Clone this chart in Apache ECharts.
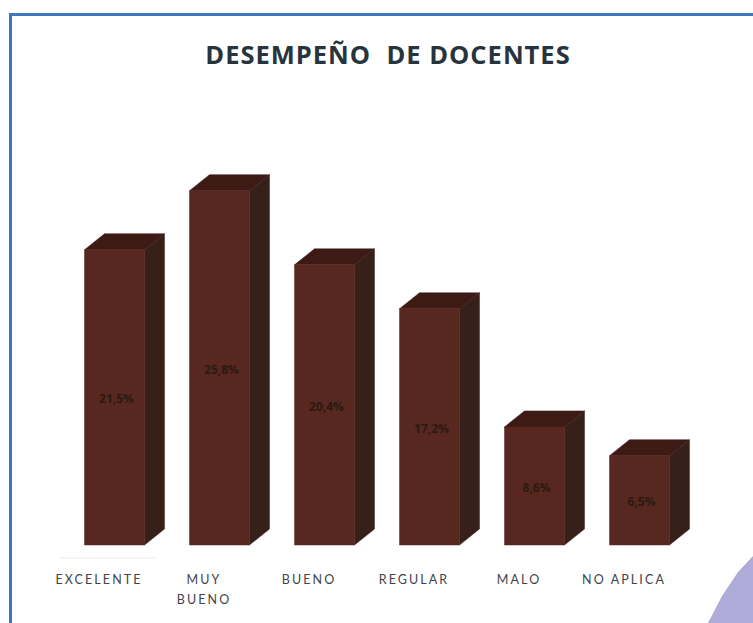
<!DOCTYPE html>
<html><head><meta charset="utf-8">
<style>
html,body{margin:0;padding:0;background:#fff}
#c{width:753px;height:623px}
svg text{letter-spacing:2.1px}
svg text.t{letter-spacing:1px}
</style>
<script src="https://cdn.jsdelivr.net/npm/echarts@6/dist/echarts.min.js"></script>
</head><body><div id="c"></div>
<script>
const chartTitle = 'DESEMPEÑO  DE DOCENTES';
const categories = ['EXCELENTE', 'MUY\nBUENO', 'BUENO', 'REGULAR', 'MALO', 'NO APLICA'];
const values = [21.5, 25.8, 20.4, 17.2, 8.6, 6.5];

const frontColor = '#58271f', topColor = '#3d1a14', sideColor = '#38201a', labelColor = '#2a1a12';
const depthX = 20, depthY = 16, faceWidth = 60, faceShift = 15.5;

const chart = echarts.init(document.getElementById('c'), null, {renderer: 'svg'});
chart.setOption({
  animation: false,
  backgroundColor: '#ffffff',
  title: {text: chartTitle, left: 383, top: 36, textAlign: 'center',
    textStyle: {fontFamily: 'Open Sans', fontWeight: 'bold', fontSize: 25.5, color: '#27343d'}},
  grid: {left: 46.5, width: 630, top: 133, height: 412},
  xAxis: {type: 'category', data: categories,
    axisLine: {show: false}, axisTick: {show: false}, splitLine: {show: false},
    axisLabel: {margin: 24, fontFamily: 'Lato', fontSize: 12.5, lineHeight: 20, color: '#3f4448', interval: 0}},
  yAxis: {type: 'value', min: 0, max: 30, show: false, splitLine: {show: false}},
  graphic: [
    {type: 'polygon', silent: true, z: 0, shape: {points: [[708,623],[722,596],[738,572],[753,556],[753,623]]},
      style: {fill: '#aeabd8'}},
    {type: 'line', silent: true, z: 0, shape: {x1: 60, y1: 558, x2: 155, y2: 558},
      style: {stroke: '#f1e9ea', lineWidth: 1}},
    {type: 'rect', silent: true, z: 1, shape: {x: 10.5, y: 14.5, width: 760, height: 700},
      style: {fill: 'none', stroke: '#3f78b8', lineWidth: 3}}
  ],
  series: [{
    type: 'custom',
    data: values.map((v, i) => [i, v]),
    encode: {x: 0, y: 1},
    renderItem(params, api) {
      const i = api.value(0), v = api.value(1);
      const base = api.coord([i, 0]);
      const cx = base[0] + faceShift, y0 = base[1];
      const y1 = api.coord([i, v])[1];
      const l = cx - faceWidth / 2, r = cx + faceWidth / 2;
      return {type: 'group', children: [
        {type: 'polygon', shape: {points: [[l,y1],[l+depthX,y1-depthY],[r+depthX,y1-depthY],[r,y1]]},
          style: {fill: topColor, stroke: topColor, lineWidth: 0.5}},
        {type: 'polygon', shape: {points: [[r,y1],[r+depthX,y1-depthY],[r+depthX,y0-depthY],[r,y0]]},
          style: {fill: sideColor, stroke: sideColor, lineWidth: 0.5}},
        {type: 'rect', shape: {x: l, y: y1, width: faceWidth, height: y0 - y1},
          style: {fill: frontColor, stroke: frontColor, lineWidth: 0.5}},
        {type: 'text', x: cx + 2, y: (y0 + y1) / 2 + 1.5, style: {
          text: v.toFixed(1).replace('.', ',') + '%', align: 'center', verticalAlign: 'middle',
          font: 'bold 12px "Open Sans"', fill: labelColor}}
      ]};
    }
  }]
});
function mark(){
  document.querySelectorAll('svg text').forEach(t=>{
    if(t.textContent.indexOf('DESEMPE')===0) t.classList.add('t');
    if(t.textContent.indexOf('%')>=0) t.style.letterSpacing='0';
  });
}
mark();
chart.on('finished',mark);
</script></body></html>
